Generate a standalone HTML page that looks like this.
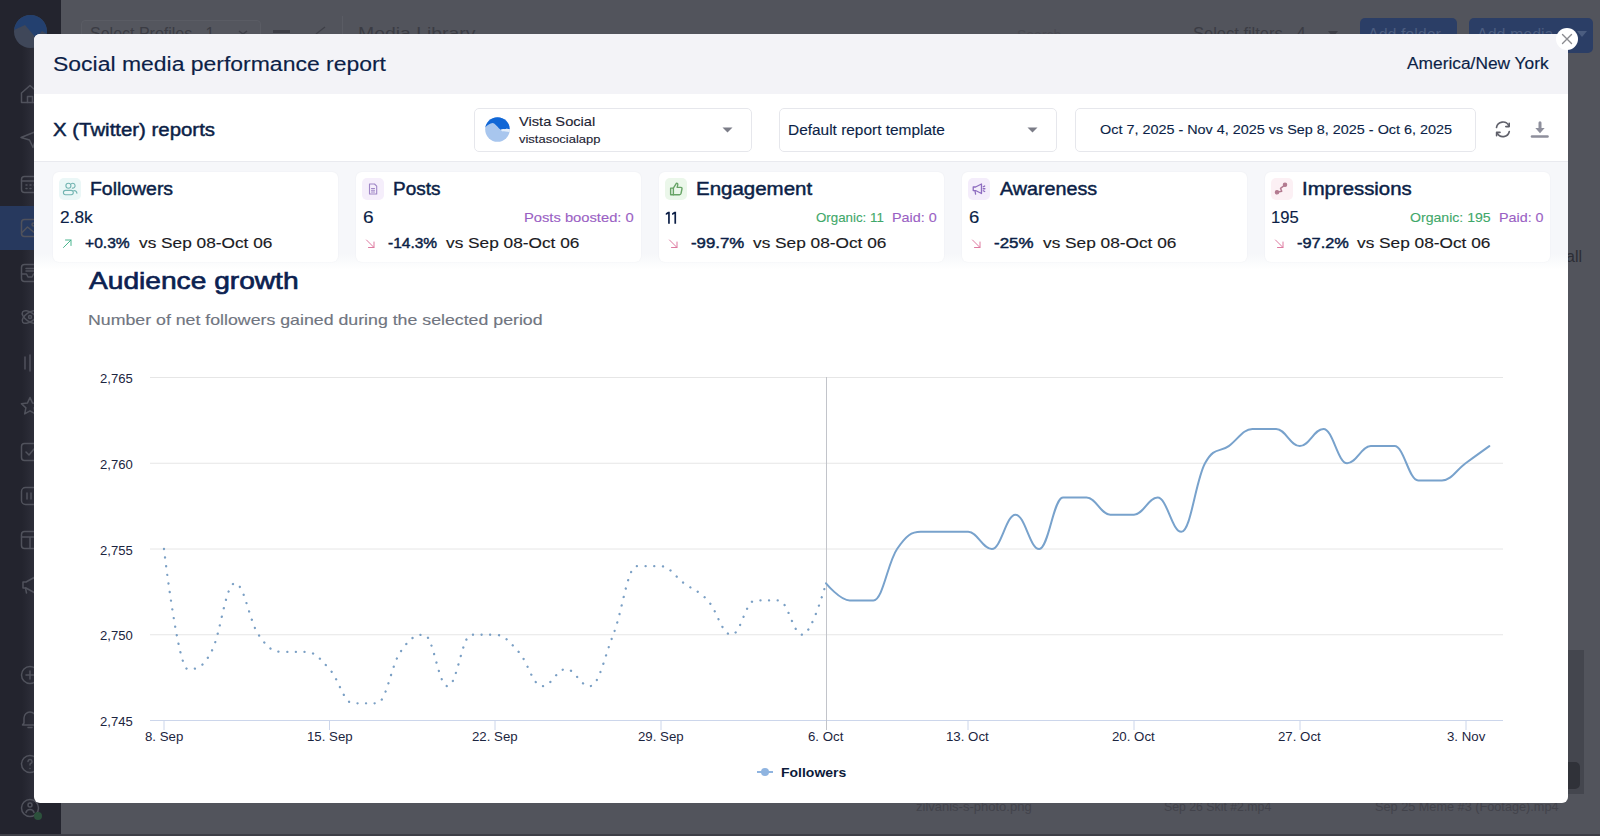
<!DOCTYPE html>
<html><head><meta charset="utf-8"><title>Social media performance report</title>
<style>
html,body{margin:0;padding:0;}
body{width:1600px;height:836px;overflow:hidden;position:relative;background:#52545c;font-family:"Liberation Sans",sans-serif;}
.abs{position:absolute;}
.t{position:absolute;white-space:pre;line-height:1;transform-origin:0 0;font-family:"Liberation Sans",sans-serif;}
#side{position:absolute;left:0;top:0;width:61px;height:836px;background:#23242e;}
#modal{position:absolute;left:34px;top:34px;width:1534px;height:769px;background:#fff;border-radius:6px;overflow:hidden;}
#mhead{position:absolute;left:0;top:0;width:1534px;height:60px;background:#f3f3f7;}
#msep{position:absolute;left:0;top:127px;width:1534px;height:1px;background:#e9eaef;}
#band{position:absolute;left:0;top:128px;width:1534px;height:108px;background:linear-gradient(#f6f7fa 0,#f6f7fa 92px,#fff 108px);}
.card{position:absolute;top:137.5px;width:285px;height:90px;background:#fff;border-radius:6px;box-shadow:0 0 2px rgba(30,40,80,0.05);}
.ibox{position:absolute;width:22px;height:22px;border-radius:5px;}
.dd{position:absolute;top:74px;height:42px;border:1px solid #e6e7ec;border-radius:5px;background:#fff;}
.caret{position:absolute;width:0;height:0;border-left:5px solid transparent;border-right:5px solid transparent;border-top:5px solid #7c7d88;}
</style></head><body>
<div id="side">
<div class="abs" style="left:22px;top:34px;width:12px;height:769px;background:linear-gradient(90deg,rgba(44,45,56,0),#2d2e39)"></div>
<div class="abs" style="left:0;top:206px;width:61px;height:44px;background:#27395e"></div>
<svg class="abs" style="left:14px;top:15px" width="33" height="33" viewBox="0 0 33 33">
<defs><clipPath id="lg"><circle cx="16.5" cy="16.5" r="16.5"/></clipPath></defs>
<g clip-path="url(#lg)"><rect width="33" height="33" fill="#3f4759"/>
<path d="M0 0H33V19L28 16L22 23L11 10L0 15z" fill="#23406f"/></g></svg>
<svg class="abs" style="left:19.5px;top:84px" width="20" height="20" viewBox="0 0 20 20" fill="none" stroke="#50525c" stroke-width="1.5" stroke-linecap="round" stroke-linejoin="round"><path d="M1.5 9L10 1.5L18.5 9V18.5H1.5z"/><path d="M7.5 18.5v-6h5v6"/></svg>
<svg class="abs" style="left:19.5px;top:129px" width="20" height="20" viewBox="0 0 20 20" fill="none" stroke="#50525c" stroke-width="1.5" stroke-linecap="round" stroke-linejoin="round"><path d="M1 8.5L18.5 1.5L13 18.5L9.5 11z"/></svg>
<svg class="abs" style="left:19.5px;top:174px" width="20" height="20" viewBox="0 0 20 20" fill="none" stroke="#50525c" stroke-width="1.5" stroke-linecap="round" stroke-linejoin="round"><rect x="1.5" y="2.5" width="17" height="16" rx="3"/><path d="M1.5 7h17"/><path d="M6 11h1M10 11h1M14 11h1M6 14.5h1M10 14.5h1"/></svg>
<svg class="abs" style="left:19.5px;top:218px" width="20" height="20" viewBox="0 0 20 20" fill="none" stroke="#50525c" stroke-width="1.5" stroke-linecap="round" stroke-linejoin="round"><rect x="1.5" y="1.5" width="17" height="17" rx="3"/><path d="M1.5 15l6-6 11 9"/><circle cx="13.5" cy="6.5" r="1.5"/></svg>
<svg class="abs" style="left:19.5px;top:262.5px" width="20" height="20" viewBox="0 0 20 20" fill="none" stroke="#50525c" stroke-width="1.5" stroke-linecap="round" stroke-linejoin="round"><rect x="1.5" y="1.5" width="17" height="17" rx="3"/><path d="M1.5 11h5l1.5 3h4l1.5-3h5"/><path d="M6 5.5h8M6 8h8"/></svg>
<svg class="abs" style="left:19.5px;top:307px" width="20" height="20" viewBox="0 0 20 20" fill="none" stroke="#50525c" stroke-width="1.5" stroke-linecap="round" stroke-linejoin="round"><ellipse cx="10" cy="10" rx="9" ry="4.5" transform="rotate(35 10 10)"/><ellipse cx="10" cy="10" rx="9" ry="4.5" transform="rotate(-35 10 10)"/><circle cx="10" cy="10" r="1.5"/></svg>
<svg class="abs" style="left:19.5px;top:353px" width="20" height="20" viewBox="0 0 20 20" fill="none" stroke="#50525c" stroke-width="1.5" stroke-linecap="round" stroke-linejoin="round"><path d="M5 4v12M10 2v16M15 5v10"/></svg>
<svg class="abs" style="left:19.5px;top:396px" width="20" height="20" viewBox="0 0 20 20" fill="none" stroke="#50525c" stroke-width="1.5" stroke-linecap="round" stroke-linejoin="round"><path d="M10 1.5l2.6 5.6 6 .7-4.5 4.1 1.2 6-5.3-3-5.3 3 1.2-6L1.4 7.8l6-.7z"/></svg>
<svg class="abs" style="left:19.5px;top:441.5px" width="20" height="20" viewBox="0 0 20 20" fill="none" stroke="#50525c" stroke-width="1.5" stroke-linecap="round" stroke-linejoin="round"><rect x="1.5" y="1.5" width="17" height="17" rx="3"/><path d="M6 10l3 3 5-6"/></svg>
<svg class="abs" style="left:19.5px;top:486px" width="20" height="20" viewBox="0 0 20 20" fill="none" stroke="#50525c" stroke-width="1.5" stroke-linecap="round" stroke-linejoin="round"><rect x="1.5" y="1.5" width="17" height="17" rx="4"/><path d="M7 7v6M11 7v6"/></svg>
<svg class="abs" style="left:19.5px;top:530px" width="20" height="20" viewBox="0 0 20 20" fill="none" stroke="#50525c" stroke-width="1.5" stroke-linecap="round" stroke-linejoin="round"><rect x="1.5" y="1.5" width="17" height="17" rx="3"/><path d="M1.5 7h17M10 7v11.5"/></svg>
<svg class="abs" style="left:19.5px;top:575px" width="20" height="20" viewBox="0 0 20 20" fill="none" stroke="#50525c" stroke-width="1.5" stroke-linecap="round" stroke-linejoin="round"><path d="M3 7h3l9-5v16l-9-5H3z"/><path d="M5.5 13l1 5"/></svg>
<svg class="abs" style="left:19.5px;top:664.5px" width="20" height="20" viewBox="0 0 20 20" fill="none" stroke="#50525c" stroke-width="1.5" stroke-linecap="round" stroke-linejoin="round"><circle cx="10" cy="10" r="8.5"/><path d="M10 6v8M6 10h8"/></svg>
<svg class="abs" style="left:19.5px;top:708.5px" width="20" height="20" viewBox="0 0 20 20" fill="none" stroke="#50525c" stroke-width="1.5" stroke-linecap="round" stroke-linejoin="round"><path d="M4 14V9a6 6 0 0 1 12 0v5l1.5 2h-15z"/><path d="M8 18.5h4"/></svg>
<svg class="abs" style="left:19.5px;top:753.5px" width="20" height="20" viewBox="0 0 20 20" fill="none" stroke="#50525c" stroke-width="1.5" stroke-linecap="round" stroke-linejoin="round"><circle cx="10" cy="10" r="8.5"/><path d="M8 7.5a2 2 0 1 1 2.5 2c-.5.2-.5.8-.5 1.5"/><path d="M10 14.5v.1"/></svg>
<svg class="abs" style="left:19.5px;top:798px" width="20" height="20" viewBox="0 0 20 20" fill="none" stroke="#50525c" stroke-width="1.5" stroke-linecap="round" stroke-linejoin="round"><circle cx="10" cy="10" r="8.5"/><circle cx="10" cy="7" r="2"/><path d="M6 14.5c.5-2 2-3 4-3s3.5 1 4 3"/></svg>
<div class="abs" style="left:34px;top:812px;width:8px;height:8px;border-radius:50%;background:#2c513c"></div>
</div>
<div class="abs" style="left:61px;top:0;width:1539px;height:836px;background:#52545c"></div>
<div class="abs" style="left:81px;top:20px;width:178px;height:40px;border:1px solid #5a5c64;border-radius:4px;background:#54565e"></div>
<div class="abs" style="left:342px;top:16px;width:1px;height:30px;background:#5a5c64"></div>
<div class="abs" style="left:1360px;top:18px;width:97px;height:40px;border-radius:5px;background:#2b3e66"></div>
<div class="abs" style="left:1469px;top:18px;width:124px;height:35px;border-radius:5px;background:#2b3e66"></div>
<div class="t" style="left:90px;top:25.5px;font-size:16px;color:#3b3c44;">Select Profiles&nbsp;&nbsp;&nbsp;1</div>
<div class="t" style="left:358px;top:25px;font-size:17px;color:#3b3c44;transform:scaleX(1.14)">Media Library</div>
<div class="t" style="left:1017px;top:28px;font-size:14px;color:#4a4b53;">Search</div>
<div class="t" style="left:1193px;top:25.5px;font-size:16px;color:#3b3c44;transform:scaleX(1.03)">Select filters&nbsp;&nbsp;&nbsp;4</div>
<div class="t" style="left:1368px;top:27px;font-size:16px;color:#4b5d80;">Add folder</div>
<div class="t" style="left:1477px;top:27px;font-size:16px;color:#4b5d80;">Add media</div>
<svg class="abs" style="left:1576px;top:30px" width="12" height="8"><path d="M1 1h10L6 7z" fill="#4b5d80"/></svg>
<svg class="abs" style="left:1327px;top:30px" width="12" height="8"><path d="M1 1h10L6 7z" fill="#3d3e46"/></svg>
<div class="abs" style="left:273px;top:30px;width:17px;height:2.5px;background:#3d3e46"></div>
<svg class="abs" style="left:236px;top:26px" width="100" height="10"><path d="M3 5l4 3 4-3" stroke="#3f4048" stroke-width="1.5" fill="none"/><path d="M80 8l9-7" stroke="#3f4048" stroke-width="1.3" fill="none"/></svg>
<div class="t" style="left:916px;top:799.5px;font-size:13px;color:#42434b;">zilvanis-s-photo.png</div>
<div class="t" style="left:1164px;top:799.5px;font-size:13px;color:#42434b;transform:scaleX(0.945)">Sep 26 Skit #2.mp4</div>
<div class="t" style="left:1374.5px;top:799.5px;font-size:13px;color:#42434b;transform:scaleX(0.977)">Sep 25 Meme #3 (Footage).mp4</div>
<div class="abs" style="left:0;top:834px;width:1600px;height:2px;background:#3e3f47"></div>
<div class="t" style="left:1566px;top:249px;font-size:16px;color:#2c2d35;">all</div>
<div class="abs" style="left:1566px;top:650px;width:18px;height:144px;background:#44464e"></div>
<div class="abs" style="left:1560px;top:762px;width:20px;height:27px;border-radius:5px;background:#303239"></div>
<div id="modal">
  <div id="mhead"></div>
  <div id="msep"></div>
  <div id="band"></div>
  <div class="dd" style="left:440px;width:276px;"></div>
  <div class="dd" style="left:745px;width:276px;"></div>
  <div class="dd" style="left:1041px;width:399px;"></div>
  <div class="card" style="left:19px"></div>
  <div class="card" style="left:322px"></div>
  <div class="card" style="left:625px"></div>
  <div class="card" style="left:928px"></div>
  <div class="card" style="left:1231px"></div>
</div>
<div class="abs" style="left:0;top:0;width:1600px;height:836px;pointer-events:none">
<svg class="abs" width="1600" height="836" viewBox="0 0 1600 836" style="left:0;top:0">
<line x1="150" y1="377.5" x2="1503" y2="377.5" stroke="#e6e6e6" stroke-width="1"/>
<line x1="150" y1="463.25" x2="1503" y2="463.25" stroke="#e6e6e6" stroke-width="1"/>
<line x1="150" y1="549" x2="1503" y2="549" stroke="#e6e6e6" stroke-width="1"/>
<line x1="150" y1="634.75" x2="1503" y2="634.75" stroke="#e6e6e6" stroke-width="1"/>
<line x1="150" y1="720.5" x2="1503" y2="720.5" stroke="#ccd6eb" stroke-width="1"/>
<line x1="164" y1="721" x2="164" y2="730" stroke="#ccd6eb" stroke-width="1"/>
<line x1="329.5" y1="721" x2="329.5" y2="730" stroke="#ccd6eb" stroke-width="1"/>
<line x1="495" y1="721" x2="495" y2="730" stroke="#ccd6eb" stroke-width="1"/>
<line x1="661" y1="721" x2="661" y2="730" stroke="#ccd6eb" stroke-width="1"/>
<line x1="968" y1="721" x2="968" y2="730" stroke="#ccd6eb" stroke-width="1"/>
<line x1="1134" y1="721" x2="1134" y2="730" stroke="#ccd6eb" stroke-width="1"/>
<line x1="1300" y1="721" x2="1300" y2="730" stroke="#ccd6eb" stroke-width="1"/>
<line x1="1466" y1="721" x2="1466" y2="730" stroke="#ccd6eb" stroke-width="1"/>
<line x1="826.5" y1="377" x2="826.5" y2="730" stroke="#c2c4ca" stroke-width="1"/>
<path d="M 164.00 549.00 C 164.00 549.00 178.19 669.05 187.64 669.05 C 197.10 669.05 201.83 669.05 211.29 651.90 C 220.74 634.75 225.47 583.30 234.93 583.30 C 244.39 583.30 249.11 621.03 258.57 634.75 C 268.03 648.47 272.76 651.90 282.21 651.90 C 291.67 651.90 296.40 651.90 305.86 651.90 C 315.31 651.90 320.04 658.76 329.50 669.05 C 338.96 679.34 343.69 703.35 353.14 703.35 C 362.60 703.35 367.33 703.35 376.79 703.35 C 386.24 703.35 390.97 665.62 400.43 651.90 C 409.89 638.18 414.61 634.75 424.07 634.75 C 433.53 634.75 438.26 686.20 447.71 686.20 C 457.17 686.20 461.90 634.75 471.36 634.75 C 480.81 634.75 485.54 634.75 495.00 634.75 C 504.46 634.75 509.19 641.61 518.64 651.90 C 528.10 662.19 532.83 686.20 542.29 686.20 C 551.74 686.20 556.47 669.05 565.93 669.05 C 575.39 669.05 580.11 686.20 589.57 686.20 C 599.03 686.20 603.76 658.76 613.21 634.75 C 622.67 610.74 627.40 566.15 636.86 566.15 C 646.31 566.15 651.04 566.15 660.50 566.15 C 669.96 566.15 674.69 576.44 684.14 583.30 C 693.60 590.16 698.33 590.16 707.79 600.45 C 717.24 610.74 721.97 634.75 731.43 634.75 C 740.89 634.75 745.61 600.45 755.07 600.45 C 764.53 600.45 769.26 600.45 778.71 600.45 C 788.17 600.45 792.90 634.75 802.36 634.75 C 811.81 634.75 826.00 583.30 826.00 583.30" fill="none" stroke="#7a9fc4" stroke-width="2.3" stroke-dasharray="0.1 8.6" stroke-linecap="round"/>
<path d="M 826.00 583.30 C 826.00 583.30 840.21 600.45 849.69 600.45 C 859.16 600.45 863.90 600.45 873.38 600.45 C 882.85 600.45 887.59 562.72 897.07 549.00 C 906.54 535.28 911.28 531.85 920.76 531.85 C 930.23 531.85 934.97 531.85 944.45 531.85 C 953.92 531.85 958.66 531.85 968.14 531.85 C 977.61 531.85 982.35 549.00 991.83 549.00 C 1001.30 549.00 1006.04 514.70 1015.51 514.70 C 1024.99 514.70 1029.73 549.00 1039.20 549.00 C 1048.68 549.00 1053.42 497.55 1062.89 497.55 C 1072.37 497.55 1077.11 497.55 1086.58 497.55 C 1096.06 497.55 1100.80 514.70 1110.27 514.70 C 1119.75 514.70 1124.49 514.70 1133.96 514.70 C 1143.44 514.70 1148.17 497.55 1157.65 497.55 C 1167.13 497.55 1171.86 531.85 1181.34 531.85 C 1190.82 531.85 1195.55 480.40 1205.03 463.25 C 1214.50 446.10 1219.24 452.96 1228.72 446.10 C 1238.19 439.24 1242.93 428.95 1252.41 428.95 C 1261.88 428.95 1266.62 428.95 1276.10 428.95 C 1285.57 428.95 1290.31 446.10 1299.79 446.10 C 1309.26 446.10 1314.00 428.95 1323.47 428.95 C 1332.95 428.95 1337.69 463.25 1347.16 463.25 C 1356.64 463.25 1361.38 446.10 1370.85 446.10 C 1380.33 446.10 1385.07 446.10 1394.54 446.10 C 1404.02 446.10 1408.76 480.40 1418.23 480.40 C 1427.71 480.40 1432.45 480.40 1441.92 480.40 C 1451.40 480.40 1456.13 470.11 1465.61 463.25 C 1475.09 456.39 1489.30 446.10 1489.30 446.10" fill="none" stroke="#78a2cc" stroke-width="2" stroke-linejoin="round" stroke-linecap="round"/>
<line x1="757" y1="772" x2="773" y2="772" stroke="#8fb4e0" stroke-width="2"/>
<circle cx="765" cy="772" r="4" fill="#8fb4e0"/>
</svg>
<div class="t" style="left:53.0px;top:54.4px;font-size:20px;font-weight:400;color:#0c1f47;-webkit-text-stroke:0.15px #0c1f47;transform:scaleX(1.1477);">Social media performance report</div>
<div class="t" style="left:1406.5px;top:55.9px;font-size:16px;font-weight:400;color:#0c1f47;-webkit-text-stroke:0.15px #0c1f47;transform:scaleX(1.0833);">America/New York</div>
<div class="t" style="left:53.0px;top:120.8px;font-size:18px;font-weight:400;color:#0c1f47;-webkit-text-stroke:0.45px #0c1f47;transform:scaleX(1.1327);">X (Twitter) reports</div>
<div class="t" style="left:519.4px;top:114.7px;font-size:13px;font-weight:400;color:#1d2333;-webkit-text-stroke:0.12px #1d2333;transform:scaleX(1.1269);">Vista Social</div>
<div class="t" style="left:519.4px;top:133.8px;font-size:11.5px;font-weight:400;color:#1d2333;-webkit-text-stroke:0.12px #1d2333;transform:scaleX(1.1275);">vistasocialapp</div>
<div class="t" style="left:788.2px;top:122.8px;font-size:14px;font-weight:400;color:#0c1f47;-webkit-text-stroke:0.12px #0c1f47;transform:scaleX(1.1015);">Default report template</div>
<div class="t" style="left:1100.0px;top:122.8px;font-size:13.5px;font-weight:400;color:#0c1f47;-webkit-text-stroke:0.12px #0c1f47;transform:scaleX(1.0662);">Oct 7, 2025 - Nov 4, 2025 vs Sep 8, 2025 - Oct 6, 2025</div>
<div class="t" style="left:89.9px;top:179.8px;font-size:18px;font-weight:400;color:#0c1f47;-webkit-text-stroke:0.45px #0c1f47;transform:scaleX(1.0787);">Followers</div>
<div class="t" style="left:59.6px;top:209.4px;font-size:17px;font-weight:400;color:#0c1f47;-webkit-text-stroke:0.15px #0c1f47;transform:scaleX(1.0174);">2.8k</div>
<div class="t" style="left:85.0px;top:234.9px;font-size:15px;font-weight:400;color:#0c1f47;-webkit-text-stroke:0.45px #0c1f47;transform:scaleX(1.0420);">+0.3%</div>
<div class="t" style="left:392.9px;top:179.8px;font-size:18px;font-weight:400;color:#0c1f47;-webkit-text-stroke:0.45px #0c1f47;transform:scaleX(1.0541);">Posts</div>
<div class="t" style="left:362.6px;top:209.4px;font-size:17px;font-weight:400;color:#0c1f47;-webkit-text-stroke:0.15px #0c1f47;transform:scaleX(1.1222);">6</div>
<div class="t" style="left:388.0px;top:234.9px;font-size:15px;font-weight:400;color:#0c1f47;-webkit-text-stroke:0.45px #0c1f47;transform:scaleX(1.0341);">-14.3%</div>
<div class="t" style="left:695.9px;top:179.8px;font-size:18px;font-weight:400;color:#0c1f47;-webkit-text-stroke:0.45px #0c1f47;transform:scaleX(1.1378);">Engagement</div>
<div class="t" style="left:691.0px;top:234.9px;font-size:15px;font-weight:400;color:#0c1f47;-webkit-text-stroke:0.45px #0c1f47;transform:scaleX(1.1210);">-99.7%</div>
<div class="t" style="left:1000.0px;top:179.8px;font-size:18px;font-weight:400;color:#0c1f47;-webkit-text-stroke:0.45px #0c1f47;transform:scaleX(1.0956);">Awareness</div>
<div class="t" style="left:968.6px;top:209.4px;font-size:17px;font-weight:400;color:#0c1f47;-webkit-text-stroke:0.15px #0c1f47;transform:scaleX(1.0889);">6</div>
<div class="t" style="left:994.0px;top:234.9px;font-size:15px;font-weight:400;color:#0c1f47;-webkit-text-stroke:0.45px #0c1f47;transform:scaleX(1.1275);">-25%</div>
<div class="t" style="left:1301.9px;top:179.8px;font-size:18px;font-weight:400;color:#0c1f47;-webkit-text-stroke:0.45px #0c1f47;transform:scaleX(1.1298);">Impressions</div>
<div class="t" style="left:1270.6px;top:209.4px;font-size:17px;font-weight:400;color:#0c1f47;-webkit-text-stroke:0.15px #0c1f47;transform:scaleX(0.9774);">195</div>
<div class="t" style="left:1297.0px;top:234.9px;font-size:15px;font-weight:400;color:#0c1f47;-webkit-text-stroke:0.45px #0c1f47;transform:scaleX(1.0913);">-97.2%</div>
<div class="t" style="left:139.4px;top:234.9px;font-size:15px;font-weight:400;color:#1a1a22;-webkit-text-stroke:0.15px #1a1a22;transform:scaleX(1.1510);">vs Sep 08-Oct 06</div>
<div class="t" style="left:446.0px;top:234.9px;font-size:15px;font-weight:400;color:#1a1a22;-webkit-text-stroke:0.15px #1a1a22;transform:scaleX(1.1510);">vs Sep 08-Oct 06</div>
<div class="t" style="left:752.8px;top:234.9px;font-size:15px;font-weight:400;color:#1a1a22;-webkit-text-stroke:0.15px #1a1a22;transform:scaleX(1.1510);">vs Sep 08-Oct 06</div>
<div class="t" style="left:1042.6px;top:234.9px;font-size:15px;font-weight:400;color:#1a1a22;-webkit-text-stroke:0.15px #1a1a22;transform:scaleX(1.1510);">vs Sep 08-Oct 06</div>
<div class="t" style="left:1357.0px;top:234.9px;font-size:15px;font-weight:400;color:#1a1a22;-webkit-text-stroke:0.15px #1a1a22;transform:scaleX(1.1510);">vs Sep 08-Oct 06</div>
<div class="t" style="left:524.3px;top:211.0px;font-size:13px;font-weight:400;color:#9a5fc4;-webkit-text-stroke:0.12px #9a5fc4;transform:scaleX(1.1327);">Posts boosted: 0</div>
<div class="t" style="left:816.0px;top:211.0px;font-size:13px;font-weight:400;color:#3fa86a;-webkit-text-stroke:0.12px #3fa86a;transform:scaleX(1.0241);">Organic: 11</div>
<div class="t" style="left:892.2px;top:211.0px;font-size:13px;font-weight:400;color:#9a5fc4;-webkit-text-stroke:0.12px #9a5fc4;transform:scaleX(1.1059);">Paid: 0</div>
<div class="t" style="left:1409.6px;top:211.0px;font-size:13px;font-weight:400;color:#3fa86a;-webkit-text-stroke:0.12px #3fa86a;transform:scaleX(1.0835);">Organic: 195</div>
<div class="t" style="left:1498.5px;top:211.0px;font-size:13px;font-weight:400;color:#9a5fc4;-webkit-text-stroke:0.12px #9a5fc4;transform:scaleX(1.1008);">Paid: 0</div>
<div class="t" style="left:89.0px;top:268.5px;font-size:24px;font-weight:400;color:#0b2150;-webkit-text-stroke:0.45px #0b2150;transform:scaleX(1.1723);-webkit-text-stroke:0.65px #0b2150;">Audience growth</div>
<div class="t" style="left:87.5px;top:311.7px;font-size:15px;font-weight:400;color:#707580;-webkit-text-stroke:0.15px #707580;transform:scaleX(1.1826);">Number of net followers gained during the selected period</div>
<div class="t" style="left:99.7px;top:373.1px;font-size:12.5px;font-weight:400;color:#1c2540;transform:scaleX(1.0470);">2,765</div>
<div class="t" style="left:99.7px;top:458.9px;font-size:12.5px;font-weight:400;color:#1c2540;transform:scaleX(1.0470);">2,760</div>
<div class="t" style="left:99.7px;top:544.6px;font-size:12.5px;font-weight:400;color:#1c2540;transform:scaleX(1.0470);">2,755</div>
<div class="t" style="left:99.7px;top:630.4px;font-size:12.5px;font-weight:400;color:#1c2540;transform:scaleX(1.0470);">2,750</div>
<div class="t" style="left:99.7px;top:716.1px;font-size:12.5px;font-weight:400;color:#1c2540;transform:scaleX(1.0470);">2,745</div>
<div class="t" style="left:144.8px;top:730.7px;font-size:12.5px;font-weight:400;color:#1c2540;transform:scaleX(1.0600);">8. Sep</div>
<div class="t" style="left:306.6px;top:730.7px;font-size:12.5px;font-weight:400;color:#1c2540;transform:scaleX(1.0600);">15. Sep</div>
<div class="t" style="left:472.1px;top:730.7px;font-size:12.5px;font-weight:400;color:#1c2540;transform:scaleX(1.0600);">22. Sep</div>
<div class="t" style="left:638.1px;top:730.7px;font-size:12.5px;font-weight:400;color:#1c2540;transform:scaleX(1.0600);">29. Sep</div>
<div class="t" style="left:808.0px;top:730.7px;font-size:12.5px;font-weight:400;color:#1c2540;transform:scaleX(1.0600);">6. Oct</div>
<div class="t" style="left:946.4px;top:730.7px;font-size:12.5px;font-weight:400;color:#1c2540;transform:scaleX(1.0600);">13. Oct</div>
<div class="t" style="left:1112.4px;top:730.7px;font-size:12.5px;font-weight:400;color:#1c2540;transform:scaleX(1.0600);">20. Oct</div>
<div class="t" style="left:1278.4px;top:730.7px;font-size:12.5px;font-weight:400;color:#1c2540;transform:scaleX(1.0600);">27. Oct</div>
<div class="t" style="left:1446.5px;top:730.7px;font-size:12.5px;font-weight:400;color:#1c2540;transform:scaleX(1.0600);">3. Nov</div>
<div class="t" style="left:780.5px;top:766.0px;font-size:13px;font-weight:700;color:#0c1a3a;transform:scaleX(1.0753);">Followers</div>
<div class="ibox" style="left:59px;top:177.8px;background:#ebf7f7"></div>
<svg class="abs" style="left:59px;top:177.8px" width="22" height="22" viewBox="0 0 22 22" fill="none" stroke="#73b5b2" stroke-width="1.1" stroke-linejoin="round" stroke-linecap="round"><circle cx="9.4" cy="7.8" r="2.5"/><path d="M12.4 5.7a2.4 2.4 0 1 1 .9 4.4"/><rect x="4.4" y="12.4" width="9.9" height="4.3" rx="2.1"/><path d="M14.8 12.5c1.9.2 3.1 1.2 3.1 2.7"/></svg>
<div class="ibox" style="left:362px;top:177.8px;background:#f5eefb"></div>
<svg class="abs" style="left:362px;top:177.8px" width="22" height="22" viewBox="0 0 22 22" fill="none" stroke="#9f86c6" stroke-width="1.1" stroke-linejoin="round" stroke-linecap="round"><path d="M7.5 6h5l2.2 2.2V16h-7.2z"/><path d="M9.5 10.5h3M9.5 12.3h3M9.5 14h3"/></svg>
<div class="ibox" style="left:665px;top:177.8px;background:#ebf7ea"></div>
<svg class="abs" style="left:665px;top:177.8px" width="22" height="22" viewBox="0 0 22 22" fill="none" stroke="#67a466" stroke-width="1.1" stroke-linejoin="round" stroke-linecap="round"><g transform="translate(11 11) scale(1.25) translate(-11.3 -11.2)"><path d="M7 10.5h2.2v5.3H7z"/><path d="M9.2 10.5l2.5-4c.8 0 1.2.6 1 1.4l-.5 2h3c.6 0 1 .5.9 1.1l-.8 3.8c-.1.6-.6 1-1.2 1H9.2"/></g></svg>
<div class="ibox" style="left:968px;top:177.8px;background:#f4edfb"></div>
<svg class="abs" style="left:968px;top:177.8px" width="22" height="22" viewBox="0 0 22 22" fill="none" stroke="#8e6cc0" stroke-width="1.1" stroke-linejoin="round" stroke-linecap="round"><g transform="translate(11 11) scale(1.18) translate(-11.4 -11.2)"><path d="M6.5 9.5h2l5-2.5v8l-5-2.5h-2z"/><path d="M8 12.5l.5 3M15 9.3l1.2-.6M15 11h1.4M15 12.7l1.2.6"/></g></svg>
<div class="ibox" style="left:1271px;top:177.8px;background:#fcf0f4"></div>
<svg class="abs" style="left:1271px;top:177.8px" width="22" height="22" viewBox="0 0 22 22" fill="none" stroke="#b37a90" stroke-width="1.1" stroke-linejoin="round" stroke-linecap="round"><circle cx="6" cy="14.3" r="1.7" fill="#b37a90"/><circle cx="14" cy="6.8" r="1.7" fill="#b37a90"/><path d="M7 14l3.8-.8-1.3-2.8 3.6-2.8" stroke-width="1.4"/></svg>
<svg class="abs" style="left:62.3px;top:238px" width="11" height="11" viewBox="0 0 11 11" fill="none" stroke="#4bb58f" stroke-width="1" stroke-linecap="round" stroke-linejoin="round"><path d="M1.5 9.5L9 2M3.5 2H9v5.5"/></svg>
<svg class="abs" style="left:365.3px;top:238px" width="11" height="11" viewBox="0 0 11 11" fill="none" stroke="#de7aa0" stroke-width="1" stroke-linecap="round" stroke-linejoin="round"><path d="M1.5 2L9 9.5M9 4v5.5H3.5"/></svg>
<svg class="abs" style="left:668.3px;top:238px" width="11" height="11" viewBox="0 0 11 11" fill="none" stroke="#de7aa0" stroke-width="1" stroke-linecap="round" stroke-linejoin="round"><path d="M1.5 2L9 9.5M9 4v5.5H3.5"/></svg>
<svg class="abs" style="left:971.3px;top:238px" width="11" height="11" viewBox="0 0 11 11" fill="none" stroke="#de7aa0" stroke-width="1" stroke-linecap="round" stroke-linejoin="round"><path d="M1.5 2L9 9.5M9 4v5.5H3.5"/></svg>
<svg class="abs" style="left:1274.3px;top:238px" width="11" height="11" viewBox="0 0 11 11" fill="none" stroke="#de7aa0" stroke-width="1" stroke-linecap="round" stroke-linejoin="round"><path d="M1.5 2L9 9.5M9 4v5.5H3.5"/></svg>
<svg class="abs" style="left:664px;top:210px" width="14" height="15" viewBox="0 0 14 15" fill="#0c1f47"><path d="M4.1 1.8h1.7V13.8H4.1V3.9L1.8 5.1V3.3z"/><path d="M10.4 1.8h1.7V13.8h-1.7V3.9L8.1 5.1V3.3z"/></svg>
<svg class="abs" style="left:484.5px;top:117px" width="25" height="25" viewBox="0 0 25 25">
<defs><clipPath id="av"><circle cx="12.5" cy="12.5" r="12.3"/></clipPath></defs>
<g clip-path="url(#av)"><rect width="25" height="25" fill="#a8c6ee"/>
<path d="M0 0H25V12.3C23 11.6 21 11.3 19.5 12.2C18 11.9 17 12.4 15.8 12.8C13 11 10 6.1 7.6 6.1C5 6.1 2.5 8.5 0 10.5z" fill="#1167d6"/>
<path d="M15.8 12.8C17 12.4 18 11.9 19.5 12.2C21 11.3 23 11.6 25 12.3V15.2C22 14.3 19 14.6 17 14.2z" fill="#e4eefa"/>
</g></svg>
<svg class="abs" style="left:722.2px;top:126.5px" width="11" height="6" viewBox="0 0 11 6"><path d="M0.5 0.5h10L5.5 5.5z" fill="#7b7c87"/></svg>
<svg class="abs" style="left:1027.2px;top:126.5px" width="11" height="6" viewBox="0 0 11 6"><path d="M0.5 0.5h10L5.5 5.5z" fill="#7b7c87"/></svg>
<svg class="abs" style="left:1493px;top:120px" width="20" height="19" viewBox="0 0 20 19" fill="none" stroke="#5f606a" stroke-width="1.6" stroke-linecap="round">
<path d="M3.5 7.5A6.5 6.5 0 0 1 15.8 5.8"/><path d="M16.2 3.2v3.4h-3.4" stroke-linejoin="round"/>
<path d="M16.3 11.5A6.5 6.5 0 0 1 4.2 13.2"/><path d="M3.6 15.8v-3.4h3.4" stroke-linejoin="round"/>
</svg>
<svg class="abs" style="left:1530px;top:121px" width="20" height="18" viewBox="0 0 20 18">
<path d="M8.5 1.8a1.5 1.5 0 0 1 3 0V7h3.2l-4.7 5.2L5.3 7h3.2z" fill="#8e8f9c"/>
<rect x="0.7" y="14.3" width="18.1" height="2.5" rx="1.25" fill="#8e8f9c"/>
</svg>
</div>
<svg class="abs" style="left:1555px;top:27px" width="24" height="24" viewBox="0 0 24 24">
<circle cx="12" cy="12" r="11" fill="#fff"/>
<path d="M7.5 7.5l9 9M16.5 7.5l-9 9" stroke="#8a8b90" stroke-width="1.4" stroke-linecap="round"/>
</svg>
</body></html>
